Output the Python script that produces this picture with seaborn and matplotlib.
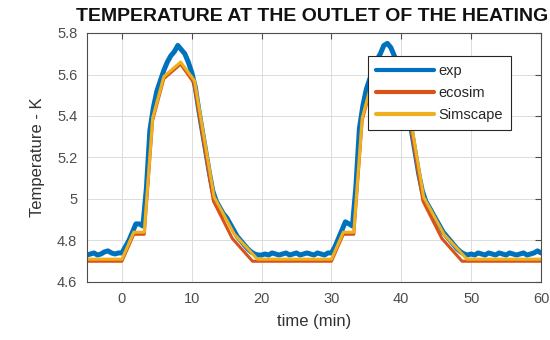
import numpy as np
import pandas as pd
import matplotlib
matplotlib.use("Agg")
import matplotlib.pyplot as plt
import seaborn as sns

# ---------------- data ----------------
exp_t = list(np.arange(-5, 60.01, 0.5))
exp_T = [4.73, 4.735, 4.74, 4.73, 4.735, 4.745, 4.75, 4.74, 4.735, 4.74, 4.74,
         4.77, 4.80, 4.84, 4.88, 4.88, 4.87, 5.05, 5.33, 5.44, 5.52, 5.57, 5.62,
         5.66, 5.69, 5.71, 5.74, 5.72, 5.70, 5.66, 5.61, 5.54, 5.43, 5.33, 5.23,
         5.13, 5.04, 4.99, 4.96, 4.93, 4.91, 4.88, 4.85, 4.82, 4.80, 4.78, 4.76,
         4.745, 4.735, 4.73,
         4.73, 4.735, 4.73, 4.74, 4.735, 4.73, 4.735, 4.74, 4.73, 4.735, 4.74,
         4.73, 4.735, 4.74, 4.735, 4.73, 4.74, 4.735, 4.73, 4.74,
         4.74, 4.77, 4.81, 4.85, 4.89, 4.88, 4.87, 5.06, 5.34, 5.45, 5.53, 5.58,
         5.63, 5.67, 5.70, 5.74, 5.75, 5.73, 5.69, 5.65, 5.60, 5.53, 5.42, 5.32,
         5.22, 5.12, 5.04, 4.99, 4.96, 4.93, 4.90, 4.87, 4.84, 4.82, 4.80, 4.78,
         4.76, 4.745, 4.735, 4.73,
         4.735, 4.73, 4.74, 4.735, 4.73, 4.74, 4.735, 4.73, 4.74, 4.735, 4.73,
         4.74, 4.735, 4.73, 4.735, 4.74, 4.73, 4.735, 4.74, 4.75, 4.74]

eco_t = [-5, 0, 1.7, 3.2, 4.4, 6.0, 8.4, 10.3, 13.1, 15.8, 18.7,
         30, 31.7, 33.2, 34.4, 36.0, 38.4, 40.3, 43.1, 45.8, 48.7, 60]
eco_T = [4.70, 4.70, 4.83, 4.83, 5.38, 5.58, 5.65, 5.56, 4.99, 4.81, 4.70,
         4.70, 4.83, 4.83, 5.38, 5.58, 5.65, 5.56, 4.99, 4.81, 4.70, 4.70]

sim_t = [-5, 0, 1.7, 3.2, 4.4, 6.0, 8.4, 10.4, 13.2, 16.1, 19.4,
         30, 31.7, 33.2, 34.4, 36.0, 38.4, 40.4, 43.2, 46.1, 49.4, 60]
sim_T = [4.71, 4.71, 4.84, 4.84, 5.39, 5.59, 5.66, 5.57, 5.01, 4.83, 4.71,
         4.71, 4.84, 4.84, 5.39, 5.59, 5.66, 5.57, 5.01, 4.83, 4.71, 4.71]

series_names = ["exp", "ecosim", "Simscape"]
colors = ["#0072BD", "#D95319", "#EDB120"]
x_ticks = [0, 10, 20, 30, 40, 50, 60]
y_ticks = [4.6, 4.8, 5.0, 5.2, 5.4, 5.6, 5.8]
y_ticklabels = ["4.6", "4.8", "5", "5.2", "5.4", "5.6", "5.8"]

# ---------------- plot ----------------
sns.set_style("whitegrid")
plt.rcParams["font.family"] = ["Liberation Sans", "DejaVu Sans"]

fig = plt.figure(figsize=(5.5, 3.4), dpi=100)
ax = fig.add_axes([87 / 550, 1 - 282 / 340, (541 - 87) / 550, (282 - 33) / 340])

df = pd.concat([
    pd.DataFrame({"t": exp_t, "T": exp_T, "s": "exp"}),
    pd.DataFrame({"t": eco_t, "T": eco_T, "s": "ecosim"}),
    pd.DataFrame({"t": sim_t, "T": sim_T, "s": "Simscape"}),
])

widths = [3.6, 2.2, 2.2]
for name, col, lw in zip(series_names, colors, widths):
    sns.lineplot(data=df[df.s == name], x="t", y="T", color=col, lw=lw,
                 estimator=None, sort=False, ax=ax, label=name)

ax.set_xlim(-5, 60)
ax.set_ylim(4.6, 5.8)
ax.set_xticks(x_ticks)
ax.set_yticks(y_ticks)
ax.set_yticklabels(y_ticklabels)
ax.tick_params(axis="both", which="both", direction="in", length=4,
               top=True, right=True, labelsize=10.5, colors="#4d4d4d",
               labelcolor="#4d4d4d", pad=7)
ax.grid(True, color="#dcdcdc", lw=0.7)
for sp in ax.spines.values():
    sp.set_color("#4d4d4d")
    sp.set_linewidth(0.8)

ax.set_xlabel("time (min)", fontsize=12, color="#333333", labelpad=6)
ax.set_ylabel("Temperature - K", fontsize=12, color="#333333", labelpad=9)

fig.text(76 / 550, 1 - 8 / 340, "TEMPERATURE AT THE OUTLET OF THE HEATING",
         ha="left", va="top", fontsize=14, fontweight="bold", color="#111111")

leg = ax.legend(loc="upper left", bbox_to_anchor=(0.619, 0.908),
                borderaxespad=0, fancybox=False, framealpha=1,
                edgecolor="#262626", fontsize=10.5, handlelength=4.0,
                borderpad=0.55, labelspacing=0.55, handletextpad=0.3)
leg.get_frame().set_linewidth(0.8)
for h in leg.get_lines():
    h.set_linewidth(3)

fig.savefig("out.png", dpi=100)
